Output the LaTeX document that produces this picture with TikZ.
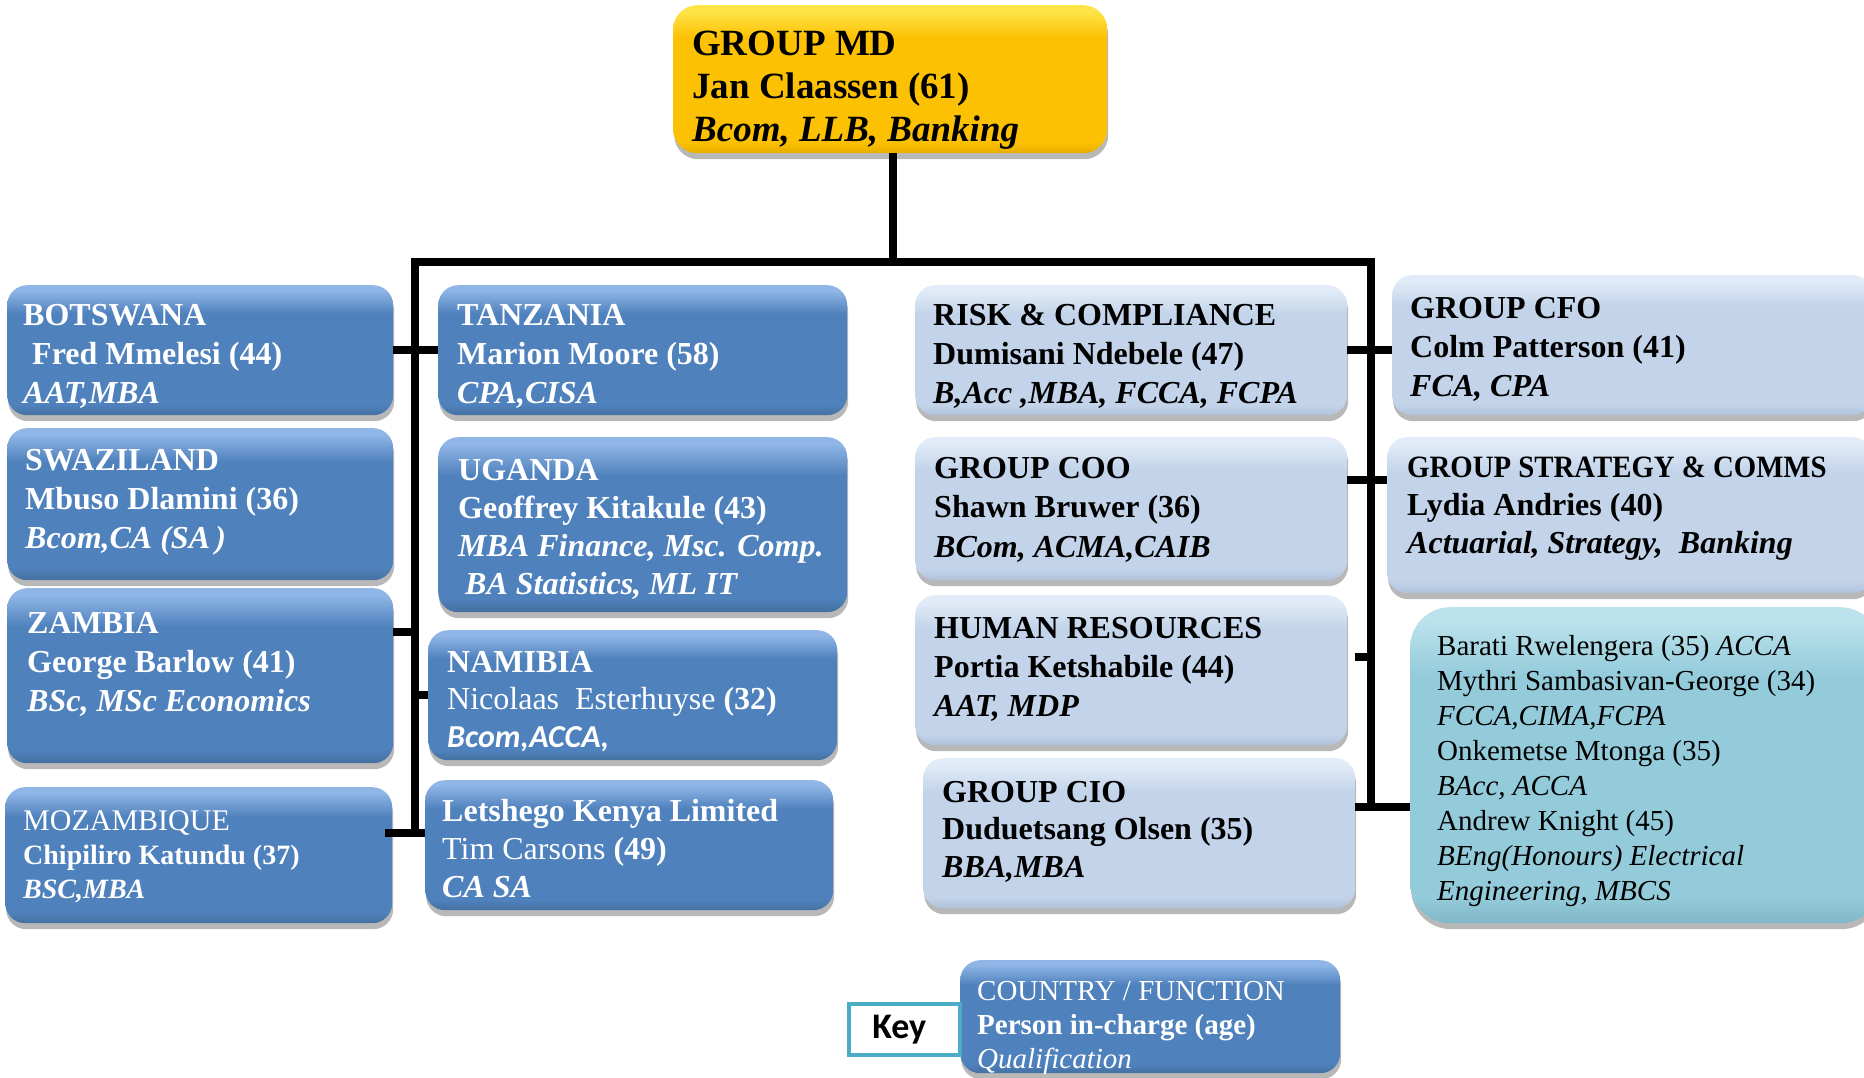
\documentclass[tikz,border=0pt]{standalone}
\usepackage{graphicx}
\usepackage{fontspec}
\setmainfont{Liberation Serif}
\newfontfamily\calib{Carlito}
\usetikzlibrary{shadows,calc}
\definecolor{db}{HTML}{4F81BD}
\definecolor{dbl}{HTML}{8FB6E6}
\definecolor{dbd}{HTML}{44709F}
\definecolor{lb}{HTML}{C3D4EA}
\definecolor{lbl}{HTML}{E2ECF8}
\definecolor{lbd}{HTML}{AFC2DB}
\definecolor{gd}{HTML}{FDC103}
\definecolor{gdl}{HTML}{FFE448}
\definecolor{gdd}{HTML}{E8AE00}
\definecolor{cy}{HTML}{93CBDB}
\definecolor{cyl}{HTML}{BBE2EC}
\definecolor{cyd}{HTML}{7FB7C8}
\definecolor{keyc}{HTML}{4BACC6}
\pgfdeclareverticalshading{dbsh}{100bp}{color(0bp)=(dbd); color(25bp)=(dbd); color(29bp)=(db); color(64bp)=(db); color(73bp)=(dbl); color(100bp)=(dbl)}
\pgfdeclareverticalshading{lbsh}{100bp}{color(0bp)=(lbd); color(25bp)=(lbd); color(29bp)=(lb); color(64bp)=(lb); color(73bp)=(lbl); color(100bp)=(lbl)}
\pgfdeclareverticalshading{gdsh}{100bp}{color(0bp)=(gdd); color(25bp)=(gdd); color(29bp)=(gd); color(64bp)=(gd); color(73bp)=(gdl); color(100bp)=(gdl)}
\pgfdeclareverticalshading{cysh}{100bp}{color(0bp)=(cyd); color(25bp)=(cyd); color(29bp)=(cy); color(64bp)=(cy); color(73bp)=(cyl); color(100bp)=(cyl)}
\newcommand\RL[1]{\hbox{#1}}
\tikzset{
  box/.style={rounded corners=20pt, anchor=north west, inner sep=0pt, draw=none, shade,
    drop shadow={shadow xshift=1pt, shadow yshift=-6pt, opacity=0.28, fill=black}},
  dbox/.style={box, shading=dbsh},
  lbox/.style={box, shading=lbsh},
  gbox/.style={box, shading=gdsh, rounded corners=24pt},
  cbox/.style={box, shading=cysh, rounded corners=40pt},
  txt/.style={inner sep=0pt, anchor=base west, font=\fontsize{32}{39}\selectfont},
  wtxt/.style={txt, text=white},
  btxt/.style={txt, text=black},
  conn/.style={line width=7.5pt, draw=black},
}
\begin{document}
\begin{tikzpicture}[x=1pt, y=-1pt]
\useasboundingbox (0,0) rectangle (1864,1077);

% ---------- boxes ----------
\node[gbox, minimum width=434pt, minimum height=148pt] (gmd) at (673,5) {};
\node[dbox, minimum width=386pt, minimum height=130pt] (bots) at (7,285) {};
\node[dbox, minimum width=386pt, minimum height=152pt] (swaz) at (7,428) {};
\node[dbox, minimum width=386pt, minimum height=175pt] (zamb) at (7,588) {};
\node[dbox, minimum width=387pt, minimum height=136pt] (moz) at (5,787) {};
\node[dbox, minimum width=409pt, minimum height=130pt] (tanz) at (438,285) {};
\node[dbox, minimum width=409pt, minimum height=175pt] (ugan) at (438,437) {};
\node[dbox, minimum width=409pt, minimum height=130pt] (nami) at (428,630) {};
\node[dbox, minimum width=408pt, minimum height=130pt] (keny) at (425,780) {};
\node[lbox, minimum width=432pt, minimum height=130pt] (risk) at (915,285) {};
\node[lbox, minimum width=432pt, minimum height=143pt] (coo) at (915,437) {};
\node[lbox, minimum width=432pt, minimum height=150pt] (hr) at (915,595) {};
\node[lbox, minimum width=432pt, minimum height=150pt] (cio) at (923,758) {};
\node[lbox, minimum width=480pt, minimum height=140pt] (cfo) at (1392,275) {};
\node[lbox, minimum width=485pt, minimum height=156pt] (strat) at (1387,437) {};
\node[cbox, minimum width=470pt, minimum height=316pt] (cyan) at (1410,607) {};
\node[dbox, minimum width=380pt, minimum height=113pt] (leg) at (960,960) {};
\node[anchor=north west, inner sep=0pt, draw=keyc, line width=3.5pt, fill=white,
      minimum width=111pt, minimum height=51pt] (key) at (847,1002) {};

% ---------- texts ----------
\node[btxt, font=\fontsize{37}{43}\selectfont] (gmdT) at (692,55)
  {\vtop{\RL{\bfseries GROUP MD}\RL{\bfseries Jan Claassen (61)}\RL{\bfseries\itshape Bcom, LLB, Banking}}};

\node[wtxt] (botsT) at (23,325)
  {\vtop{\RL{\bfseries BOTSWANA}\RL{\bfseries\hspace{9pt}Fred Mmelesi (44)}\RL{\bfseries\itshape AAT,MBA}}};
\node[wtxt] (swazT) at (25,470)
  {\vtop{\RL{\bfseries SWAZILAND}\RL{\bfseries Mbuso Dlamini (36)}\RL{\bfseries\itshape Bcom,CA (SA\,)}}};
\node[wtxt] (zambT) at (27,633)
  {\vtop{\RL{\bfseries ZAMBIA}\RL{\bfseries George Barlow (41)}\RL{\bfseries\itshape BSc, MSc Economics}}};
\node[wtxt, font=\fontsize{28}{34}\selectfont] (mozT) at (23,830)
  {\vtop{\RL{\fontsize{30}{34}\selectfont MOZAMBIQUE}\RL{\bfseries Chipiliro Katundu (37)}\RL{\bfseries\itshape BSC,MBA}}};

\node[wtxt] (tanzT) at (457,325)
  {\vtop{\RL{\bfseries TANZANIA}\RL{\bfseries Marion Moore (58)}\RL{\bfseries\itshape CPA,CISA}}};
\node[wtxt, font=\fontsize{32}{38}\selectfont] (uganT) at (458,480)
  {\vtop{\RL{\bfseries UGANDA}\RL{\bfseries Geoffrey Kitakule (43)}\RL{\bfseries\itshape MBA Finance, Msc. Comp.}\RL{\bfseries\itshape\hspace{7pt}BA Statistics, ML IT}}};
\node[wtxt, font=\fontsize{32}{37.5}\selectfont] (namiT) at (447,672)
  {\vtop{\RL{\bfseries NAMIBIA}\RL{Nicolaas\ \ Esterhuyse \textbf{(32)}}\RL{\calib\bfseries\itshape Bcom,ACCA,}}};
\node[wtxt, font=\fontsize{32}{38}\selectfont] (kenyT) at (442,821)
  {\vtop{\RL{\bfseries Letshego Kenya Limited}\RL{Tim Carsons \textbf{(49)}}\RL{\bfseries\itshape CA SA}}};

\node[btxt] (riskT) at (933,325)
  {\vtop{\RL{\bfseries RISK \& COMPLIANCE}\RL{\bfseries Dumisani Ndebele (47)}\RL{\bfseries\itshape B,Acc ,MBA, FCCA, FCPA}}};
\node[btxt, font=\fontsize{32}{39.5}\selectfont] (cooT) at (934,478)
  {\vtop{\RL{\bfseries GROUP COO}\RL{\bfseries Shawn Bruwer (36)}\RL{\bfseries\itshape BCom, ACMA,CAIB}}};
\node[btxt] (hrT) at (934,638)
  {\vtop{\RL{\bfseries HUMAN RESOURCES}\RL{\bfseries Portia Ketshabile (44)}\RL{\bfseries\itshape AAT, MDP}}};
\node[btxt, font=\fontsize{32}{37.5}\selectfont] (cioT) at (942,802)
  {\vtop{\RL{\bfseries GROUP CIO}\RL{\bfseries Duduetsang Olsen (35)}\RL{\bfseries\itshape BBA,MBA}}};

\node[btxt] (cfoT) at (1410,318)
  {\vtop{\RL{\bfseries GROUP CFO}\RL{\bfseries Colm Patterson (41)}\RL{\bfseries\itshape FCA, CPA}}};
\node[btxt, font=\fontsize{32}{38}\selectfont] (stratT) at (1407,477)
  {\vtop{\RL{\bfseries\scalebox{0.9}[0.97]{GROUP STRATEGY \& COMMS}}\RL{\bfseries Lydia Andries (40)}\RL{\bfseries\itshape Actuarial, Strategy,\ \ Banking}}};

\node[btxt, font=\fontsize{29}{35}\selectfont] (cyanT) at (1437,655)
  {\vtop{\RL{Barati Rwelengera (35) \textit{ACCA}}\RL{Mythri Sambasivan-George (34)}\RL{\itshape FCCA,CIMA,FCPA}\RL{Onkemetse Mtonga (35)}\RL{\itshape BAcc, ACCA}\RL{Andrew Knight (45)}\RL{\itshape BEng(Honours) Electrical}\RL{\itshape Engineering, MBCS}}};

\node[wtxt, font=\fontsize{29}{34}\selectfont] (legT) at (977,1000)
  {\vtop{\RL{COUNTRY / FUNCTION}\RL{\bfseries Person in-charge (age)}\RL{\itshape Qualification}}};
\node[inner sep=0pt, font=\calib\bfseries\fontsize{36}{40}\selectfont] (keyT) at ([xshift=-5pt]key.center) {Key};

% ---------- connectors ----------
\coordinate (jt) at (893,262);
\coordinate (jl) at (415,262);
\coordinate (jr) at (1371,262);
\coordinate (jlb) at (415,833);
\coordinate (jrb) at (1371,807);
\draw[conn] (jt |- gmd.south) -- (jt);
\draw[conn] (jlb) -- (jl) -- (jr) -- (jrb);
\draw[conn] (bots.east) -- (tanz.west);
\coordinate (za) at ($(zamb.north east)!0.25!(zamb.south east)$);
\draw[conn] (za) -- (za -| jl);
\draw[conn] (nami.west) -- (nami.west -| jl);
\coordinate (mo) at ($(moz.north east)!0.338!(moz.south east)$);
\draw[conn] ([xshift=-7pt]mo) -- (mo -| keny.west);
\draw[conn] (risk.east) -- (risk.east -| cfo.west);
\coordinate (co) at ($(coo.north east)!0.30!(coo.south east)$);
\draw[conn] (co) -- (co -| strat.west);
\coordinate (hh) at ($(hr.north east)!0.413!(hr.south east)$);
\draw[conn] ([xshift=8pt]hh) -- (hh -| jr);
\coordinate (ci) at ($(cio.north east)!0.327!(cio.south east)$);
\draw[conn] (ci) -- (ci -| cyan.west);
\end{tikzpicture}
\end{document}
